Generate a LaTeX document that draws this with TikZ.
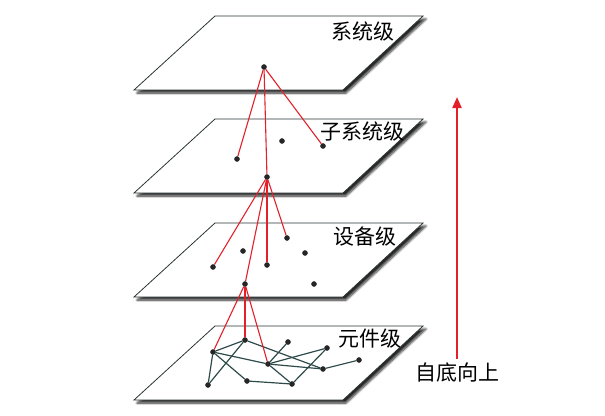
\documentclass[tikz,border=0pt]{standalone}
\usepackage{fontspec}
\newfontfamily\cjk{Noto Sans CJK SC}
\usetikzlibrary{shadows.blur,arrows.meta}
\definecolor{edgec}{HTML}{2F4A4A}
\definecolor{redc}{HTML}{E3202A}
\definecolor{planec}{HTML}{2A3434}
\begin{document}
\begin{tikzpicture}[x=1pt,y=-1pt,
  plane/.style={draw=planec,line width=0.8pt,fill=white,
    blur shadow={shadow xshift=3pt,shadow yshift=-3pt,shadow blur steps=8,shadow opacity=85,shadow blur radius=2.2pt}},
  dot/.style={circle,fill=black!85,inner sep=0pt,minimum size=5.2pt},
  redl/.style={draw=redc,line width=1.1pt},
  netl/.style={draw=edgec,line width=1.2pt},
  lvl/.style={font=\cjk\fontsize{21}{24}\selectfont,inner sep=0pt}]
\useasboundingbox (0,0) rectangle (605,415);
% planes
\foreach \t/\n in {16/1,119/2,223/3,326/4}{
  \path[plane] (215,\t) -- (423,\t) -- (343,\t+74) -- (134,\t+74) -- cycle;
}
% labels
\node[lvl] (L1) at (363,31) {系统级};
\node[lvl] (L2) at (362,131) {子系统级};
\node[lvl] (L3) at (365,237) {设备级};
\node[lvl] (L4) at (370,339) {元件级};
\node[lvl] (L5) at (457,373) {自底向上};
% arrow
\coordinate (arrtip) at (457,97);
\draw[draw=redc,line width=2pt,-{Triangle[width=9pt,length=11pt]}] (L5.north) ++(0,-4) coordinate (arrtail) (arrtail) -- (arrtip);
% level 1
\node[dot] (s1) at (264,67) {};
% level 2
\node[dot] (u1) at (237,159) {};
\node[dot] (u2) at (267,177) {};
\node[dot] (u3) at (323,146) {};
\node[dot] (u4) at (282,141) {};
% level 3
\node[dot] (d1) at (213,267) {};
\node[dot] (d2) at (243,251) {};
\node[dot] (d3) at (267,265) {};
\node[dot] (d4) at (287,238) {};
\node[dot] (d5) at (305,253) {};
\node[dot] (d6) at (245,284) {};
\node[dot] (d7) at (314,284) {};
% level 4
\node[dot] (A) at (213,352) {};
\node[dot] (B) at (245,340) {};
\node[dot] (C) at (288,342) {};
\node[dot] (D) at (327,348) {};
\node[dot] (E) at (268,364) {};
\node[dot] (F) at (323,369) {};
\node[dot] (G) at (359,360) {};
\node[dot] (H) at (208,385) {};
\node[dot] (I) at (247,381) {};
\node[dot] (J) at (292,384) {};
% network edges
\foreach \a/\b in {A/B,A/H,A/E,A/I,B/H,B/F,C/E,D/E,E/F,E/J,D/J,F/G,I/J}{
  \path[netl] (\a) -- (\b);
}
% red links
\foreach \a/\b in {s1/u1,s1/u2,s1/u3,u2/d1,u2/d6,u2/d3,u2/d4,d6/A,d6/B,d6/E}{
  \path[redl] (\a) -- (\b);
}
% redraw dots on top
\foreach \p in {s1,u1,u2,u3,u4,d1,d2,d3,d4,d5,d6,d7,A,B,C,D,E,F,G,H,I,J}{
  \fill[black!85] (\p) circle (2.7pt);
}
\end{tikzpicture}
\end{document}
